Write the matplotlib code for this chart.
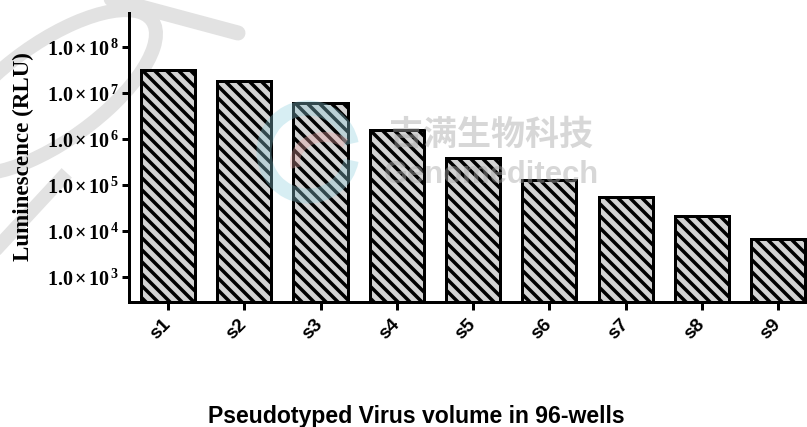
import matplotlib
matplotlib.use('Agg')
import matplotlib.pyplot as plt
from matplotlib.patches import Ellipse, Arc
from matplotlib.lines import Line2D

categories = ['s1', 's2', 's3', 's4', 's5', 's6', 's7', 's8', 's9']
values = [3.1e7, 1.8e7, 6.0e6, 1.55e6, 3.9e5, 1.26e5, 5.5e4, 2.1e4, 6.8e3]
ytick_values = [1e3, 1e4, 1e5, 1e6, 1e7, 1e8]
ytick_exps = [3, 4, 5, 6, 7, 8]
ylabel = 'Luminescence (RLU)'
xlabel = 'Pseudotyped Virus volume in 96-wells'
wm_cn = '吉满生物科技'
wm_en = 'Genomeditech'

plt.rcParams['hatch.linewidth'] = 3.5
plt.rcParams['mathtext.fontset'] = 'custom'
plt.rcParams['mathtext.rm'] = 'Liberation Serif:bold'
plt.rcParams['mathtext.bf'] = 'Liberation Serif:bold'
plt.rcParams['mathtext.it'] = 'Liberation Serif:bold:italic'

W, H = 807, 427
fig = plt.figure(figsize=(W / 72, H / 72), dpi=72)
wmc = '#e2e2e2'


def fx(px):
    return px / W


def fy(py):
    return 1 - py / H


# watermark (behind)
fig.patches.append(Ellipse((fx(52), fy(92)), 130 / W, 185 / H, angle=-30,
                           fill=False, edgecolor=wmc, linewidth=14,
                           transform=fig.transFigure, zorder=-5))
fig.lines.append(Line2D([fx(62), fx(0)], [fy(178), fy(245)], color=wmc,
                        linewidth=14, transform=fig.transFigure, zorder=-5))
fig.lines.append(Line2D([fx(100), fx(238)], [fy(-4), fy(33)], color=wmc,
                        linewidth=15, solid_capstyle='round', transform=fig.transFigure, zorder=-5))

ax = fig.add_axes([129 / W, 125 / H, (W - 129) / W, 289 / H])
ax.patch.set_visible(False)

x = list(range(len(categories)))
ax.bar(x, values, width=0.71, color='#d3d3d3', edgecolor='black', linewidth=3,
       hatch='\\\\', zorder=2)

ax.set_yscale('log')
ax.set_ylim(291, 5.38e8)
ax.set_xlim(-0.51, 8.376)
ax.set_yticks(ytick_values)
ax.set_yticklabels([r'$1.0\,{\times}\,10^{\,%d}$' % e for e in ytick_exps])
ax.minorticks_off()
ax.set_xticks(x)
ax.set_xticklabels(categories, rotation=45, ha='right', va='center', rotation_mode='anchor',
                   fontsize=19, fontweight='bold', family='Liberation Sans')
for lbl in ax.get_yticklabels():
    lbl.set_fontsize(20)

for s in ['top', 'right']:
    ax.spines[s].set_visible(False)
for s in ['left', 'bottom']:
    ax.spines[s].set_linewidth(3)
ax.tick_params(axis='y', length=7, width=3, pad=3)
ax.tick_params(axis='x', length=8, width=3, pad=12)

fig.text(fx(23), fy(157), ylabel, rotation=90, ha='center', va='center',
         fontsize=23, fontweight='bold', family='Liberation Serif')
fig.text(fx(416), fy(416), xlabel, ha='center', va='center',
         fontsize=23, fontweight='bold', family='Liberation Sans')

# watermark (front)
fig.patches.append(Arc((fx(308), fy(152)), 88 / W, 88 / H, theta1=20, theta2=340,
                       edgecolor='#8fd0de', linewidth=15, alpha=0.35,
                       transform=fig.transFigure, zorder=5))
fig.patches.append(Arc((fx(325), fy(162)), 60 / W, 50 / H, theta1=60, theta2=200,
                       edgecolor='#e8a0a0', linewidth=10, alpha=0.35,
                       transform=fig.transFigure, zorder=5))
fig.text(fx(491), fy(134), wm_cn, ha='center', va='center', fontsize=34,
         fontweight='bold', family='Noto Sans CJK SC', color='#a8a8a8', alpha=0.45, zorder=6)
fig.text(fx(491), fy(175), wm_en, ha='center', va='center', fontsize=31,
         fontweight='bold', family='Liberation Sans', color='#a8a8a8', alpha=0.45, zorder=6)

fig.savefig('out.png', dpi=72)
